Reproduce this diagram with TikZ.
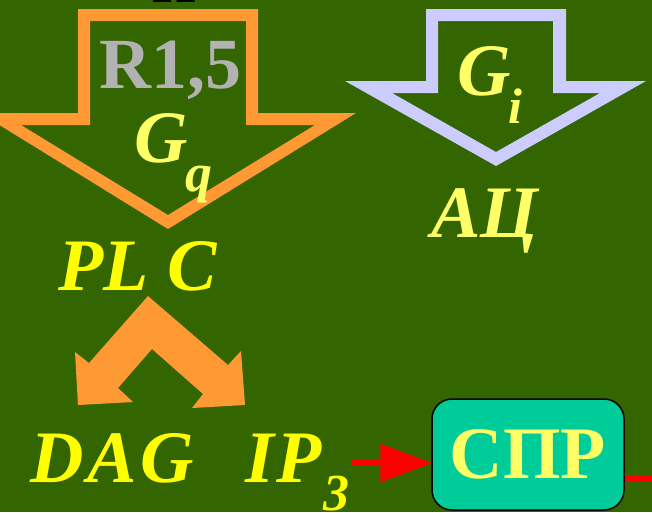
\documentclass[tikz,border=0pt]{standalone}
\usepackage{fontspec}
\setmainfont{Liberation Serif}
\usetikzlibrary{arrows.meta}
\definecolor{bg}{HTML}{336600}
\definecolor{orangeA}{HTML}{FF9933}
\definecolor{lav}{HTML}{CCCCFF}
\definecolor{paleY}{HTML}{FFFF66}
\definecolor{brightY}{HTML}{FFFF00}
\definecolor{grayT}{HTML}{B2B2B2}
\definecolor{boxfill}{HTML}{00CC99}
\definecolor{redA}{HTML}{FF0000}
\tikzset{
  lbl/.style={inner sep=0pt, anchor=base west, font=\fontsize{74}{80}\selectfont\bfseries\itshape},
  sublbl/.style={inner sep=0pt, anchor=base west, font=\fontsize{54}{60}\selectfont\bfseries\itshape},
  sprbox/.style={draw=black, line width=1.5pt, fill=boxfill, rounded corners=20pt,
    minimum width=192pt, minimum height=111pt, inner sep=0pt, text=paleY,
    font=\fontsize{74}{80}\selectfont\bfseries},
  redline/.style={draw=redA, line width=6pt}
}
\begin{document}
\begin{tikzpicture}[x=1pt,y=-1pt]
\fill[bg] (0,0) rectangle (652,512);
\useasboundingbox (0,0) rectangle (652,512);
\clip (0,0) rectangle (652,512);
% cut-off text at the top
\node[inner sep=0pt, anchor=base, font=\fontsize{56}{60}\selectfont\bfseries] (toptxt) at (174,2) {Н};
% orange outline arrow (Gq)
\fill[orangeA, even odd rule]
  (78,9) -- (258,9) -- (258,113) -- (356,113) -- (168,229) -- (-20,113) -- (78,113) -- cycle
  (90,21) -- (246,21) -- (246,125) -- (315,125) -- (168,215) -- (21,125) -- (90,125) -- cycle;
% lavender outline arrow (Gi)
\fill[lav, even odd rule]
  (426,9) -- (566,9) -- (566,81) -- (646,81) -- (496,166) -- (345,81) -- (426,81) -- cycle
  (438,21) -- (553,21) -- (553,93) -- (600,93) -- (496,152) -- (392,93) -- (438,93) -- cycle;
% orange forked arrow
\fill[orangeA] (148,296) -- (228,365) -- (241,351) -- (245,405) -- (192,408) -- (203,394)
  -- (152,349) -- (118,388) -- (133,402) -- (78,405) -- (75,352) -- (89,363) -- cycle;
% texts
\node[inner sep=0pt, anchor=base west, text=grayT, font=\fontsize{72}{76}\selectfont\bfseries] (r15) at (99,88) {R1,5};
\node[lbl, text=paleY] (gq) at (134,162) {G};
\node[sublbl, text=paleY] (q) at (185,191) {q};
\node[lbl, text=paleY] (gi) at (457,95) {G};
\node[sublbl, text=paleY, font=\fontsize{50}{56}\selectfont\bfseries\itshape] (i) at (508,123) {i};
\node[lbl, text=paleY] (ac) at (431,237) {АЦ};
\node[lbl, text=brightY] (plc) at (58,290) {PL C};
\node[lbl, text=brightY] (dag) at (30,482) {D\kern4pt A\kern4pt G};
\node[lbl, text=brightY] (ip) at (245,482) {I\kern3pt P};
\node[sublbl, text=brightY, font=\fontsize{52}{56}\selectfont\bfseries\itshape] (three) at (323,510) {3};
\node[sprbox] (spr) at (528,454.5) {СПР};
% red connectors
\coordinate (ipout) at (352,463);
\coordinate (rend) at (652,478);
\draw[redline, -{Triangle[length=52pt,width=37pt]}, shorten >=-1pt] (ipout) -- (ipout -| spr.west);
\draw[redline] (rend -| spr.east) -- (rend);
\end{tikzpicture}
\end{document}
